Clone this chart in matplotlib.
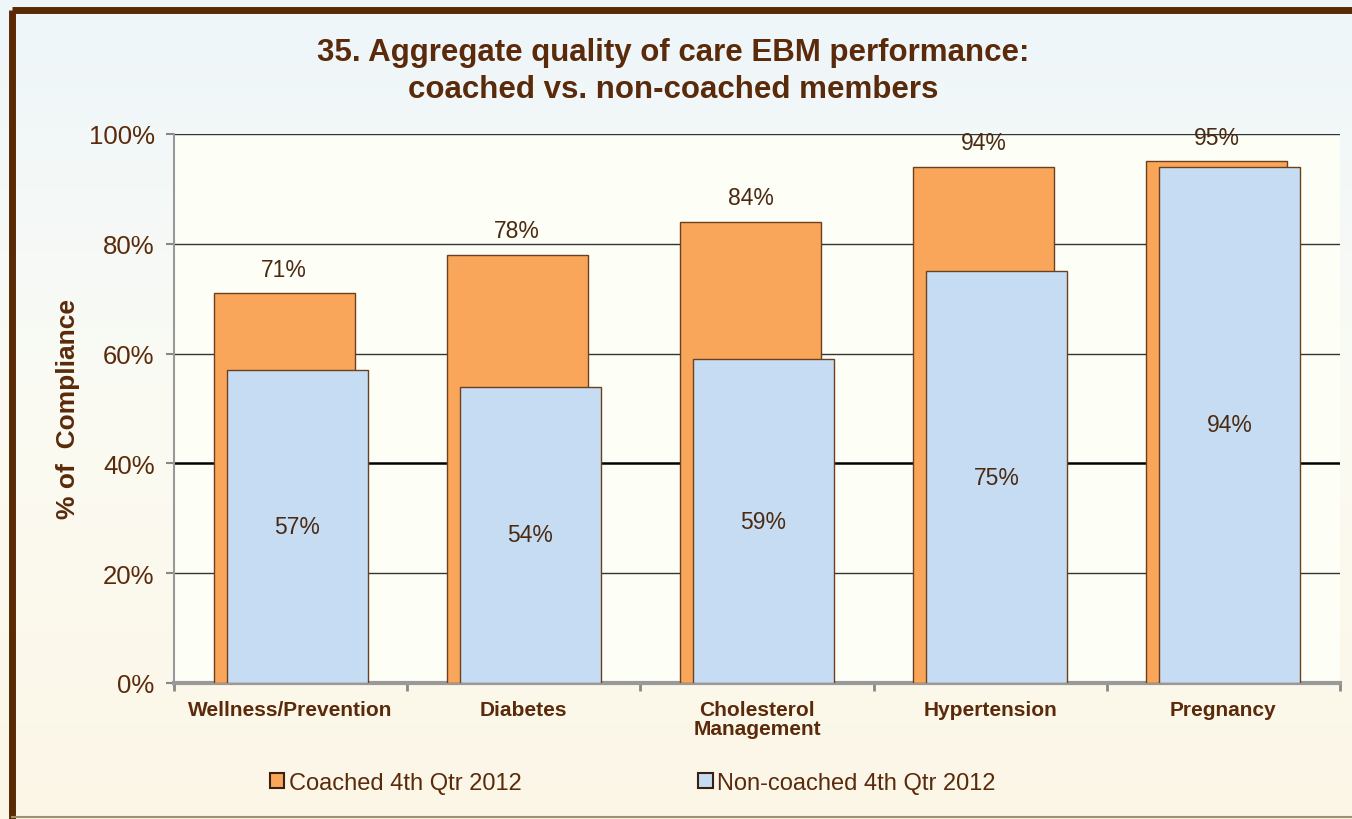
import matplotlib.pyplot as plt
import numpy as np
from matplotlib.colors import LinearSegmentedColormap

categories = ['Wellness/Prevention', 'Diabetes', 'Cholesterol\nManagement', 'Hypertension', 'Pregnancy']
coached = [71, 78, 84, 94, 95]
non_coached = [57, 54, 59, 75, 94]
series_names = ['Coached 4th Qtr 2012', 'Non-coached 4th Qtr 2012']
yticks = [0, 20, 40, 60, 80, 100]

brown = '#5a2a0a'
orange = '#f9a65a'
blue = '#c6dcf2'
edge = '#6b4020'

plt.rcParams['font.family'] = ['Liberation Sans', 'DejaVu Sans']

fig = plt.figure(figsize=(13.52, 8.2), dpi=100)

# fond z gradientom in okvir
bg = fig.add_axes([0, 0, 1, 1], zorder=-10)
grad = np.linspace(0, 1, 256).reshape(-1, 1)
cmap = LinearSegmentedColormap.from_list('bg', ['#eef6fa', '#fbfbf3', '#fbf6e6'])
bg.imshow(grad, aspect='auto', cmap=cmap, extent=[0, 1, 1, 0])
bg.set_xlim(0, 1)
bg.set_ylim(1, 0)
bg.axis('off')
bg.plot([0.009, 0.009], [1.0, 0.013], color='#5a2a05', lw=5, solid_capstyle='butt')
bg.plot([0.009, 1.0], [0.013, 0.013], color='#5a2a05', lw=5, solid_capstyle='butt')
bg.plot([0.009, 1.0], [0.997, 0.997], color='#a09070', lw=1.5)

ax = fig.add_axes([0.1287, 0.1659, 0.8624, 0.6695])
ax.set_facecolor('#fdfef5')
x = np.arange(len(categories))
w = 0.605
off = 0.028
b1 = ax.bar(x - off, coached, w, color=orange, edgecolor=edge, lw=1, zorder=3, label=series_names[0])
b2 = ax.bar(x + off, non_coached, w, color=blue, edgecolor=edge, lw=1, zorder=4, label=series_names[1])

for xi, v in zip(x, coached):
    ax.text(xi - off, v + 2.3, f'{v}%', ha='center', va='bottom', fontsize=16.5, color='#4a2a12', zorder=6)
for xi, v in zip(x, non_coached):
    ax.text(xi + off, v / 2, f'{v}%', ha='center', va='center', fontsize=16.5, color='#4a2a12', zorder=6)

ax.set_xlim(-0.5, len(categories) - 0.5)
ax.set_ylim(0, 100)
ax.set_yticks(yticks)
ax.set_yticklabels([f'{t}%' for t in yticks], fontsize=18.5, color=brown, fontweight='medium')
for t in yticks[1:]:
    ax.axhline(t, color='black' if t == 40 else '#333333', lw=1.8 if t == 40 else 1, zorder=1)

ax.set_xticks(x)
ax.set_xticklabels(categories, fontsize=15, fontweight='bold', color=brown, linespacing=1.0)
ax.set_xticks(np.arange(len(categories) + 1) - 0.5, minor=True)
ax.tick_params(axis='x', which='major', length=0, pad=12)
ax.tick_params(axis='x', which='minor', length=6, color='#888888', width=2)
ax.tick_params(axis='y', length=6, color='#888888', width=1.5, pad=8)

for s in ['top', 'right']:
    ax.spines[s].set_visible(False)
ax.spines['left'].set_color('#999999')
ax.spines['bottom'].set_color('#999999')
ax.spines['bottom'].set_linewidth(3)
ax.spines['left'].set_linewidth(1.5)

ax.set_ylabel('% of  Compliance', fontsize=19, fontweight='bold', color=brown, labelpad=6)

fig.text(0.498, 0.913, '35. Aggregate quality of care EBM performance:\ncoached vs. non-coached members',
         ha='center', va='center', fontsize=22.5, fontweight='bold', color=brown, linespacing=1.3)

leg = fig.legend(handles=[b1, b2], loc='center', bbox_to_anchor=(0.468, 0.044), ncol=2,
                 frameon=False, fontsize=17, handlelength=0.6, handleheight=0.6,
                 handletextpad=0.2, columnspacing=7.5)
for t in leg.get_texts():
    t.set_color(brown)
for h in leg.legend_handles:
    h.set_edgecolor('#3a2010')
    h.set_linewidth(1.5)

fig.savefig('out.png', dpi=100)
